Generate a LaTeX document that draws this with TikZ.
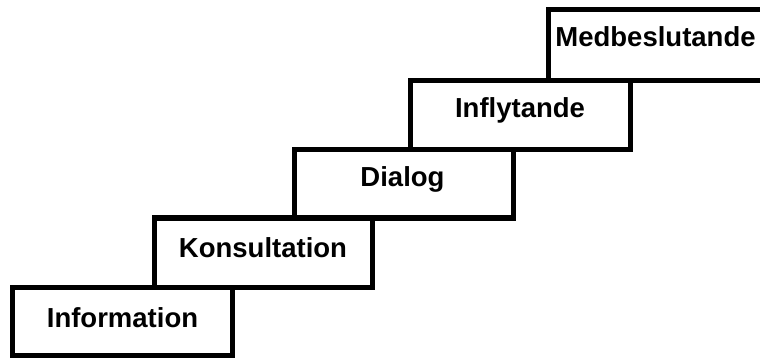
\documentclass[tikz,border=0pt]{standalone}
\usepackage{fontspec}
\setmainfont{Liberation Sans}
\begin{document}
\begin{tikzpicture}[x=1pt,y=-1pt,
  stepbox/.style={draw=black,line width=5pt,fill=white,rectangle,inner sep=0pt},
  steplabel/.style={anchor=base,inner sep=0pt,font=\bfseries\fontsize{27.5}{32}\selectfont}]
\useasboundingbox (0,0) rectangle (760,358);
\clip (0,0) rectangle (760,358);
\node[stepbox,minimum width=220pt,minimum height=68pt] (info) at (122.5,321) {};
\node[stepbox,minimum width=218pt,minimum height=69pt] (kons) at (263,252.5) {};
\node[stepbox,minimum width=219pt,minimum height=68pt] (dial) at (403.5,184) {};
\node[stepbox,minimum width=220pt,minimum height=69pt] (infl) at (520,115.5) {};
\node[stepbox,minimum width=222pt,minimum height=71pt] (medb) at (659,45.5) {};
\node[steplabel] (tinfo) at (122.5,327) {Information};
\node[steplabel] (tkons) at (263,257) {Konsultation};
\node[steplabel] (tdial) at (402.5,187) {Dialog};
\node[steplabel] (tinfl) at (520,118) {Inflytande};
\node[steplabel] (tmedb) at (655.5,47) {Medbeslutande};
\end{tikzpicture}
\end{document}
